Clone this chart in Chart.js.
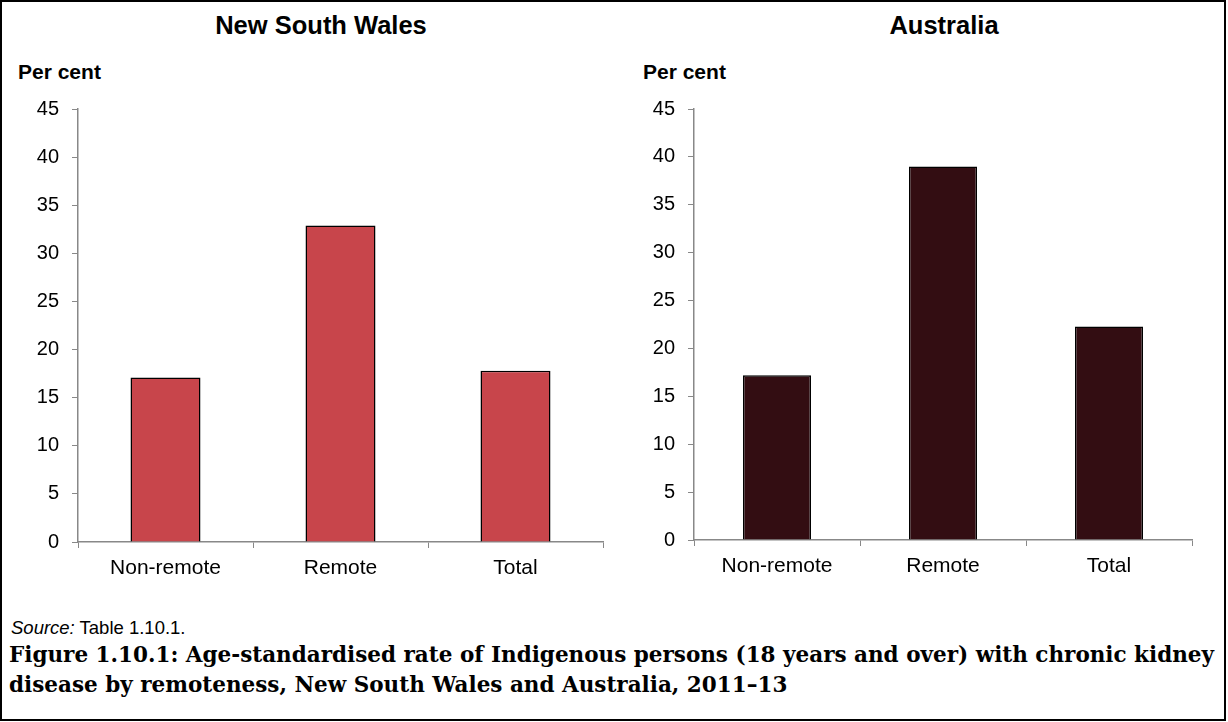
<!DOCTYPE html>
<html>
<head>
<meta charset="utf-8">
<script src="https://cdn.jsdelivr.net/npm/chart.js@4"></script>
<style>
  body { margin: 0; background: #fff; }
  #frame {
    position: absolute; left: 0; top: 0; width: 1226px; height: 721px;
    box-sizing: border-box; border: 2px solid #000; background: #fff;
    font-family: "Liberation Sans", Arial, sans-serif; color: #000;
  }
  .title { position: absolute; top: 9px; font-weight: bold; font-size: 25.5px; text-align: center; width: 400px; }
  .unit { position: absolute; top: 58px; font-weight: bold; font-size: 21px; }
  .wrap { position: absolute; top: 0; height: 600px; }
  #source { position: absolute; left: 9px; top: 615px; font-size: 18.5px; }
  #caption {
    position: absolute; left: 7px; top: 638px; font-family: "DejaVu Serif", serif;
    font-weight: bold; font-size: 21.5px; line-height: 30px; white-space: nowrap;
  }
</style>
</head>
<body>
<div id="frame">
  <div class="title" style="left:119px;">New South Wales</div>
  <div class="title" style="left:742px;">Australia</div>
  <div class="unit" style="left:16px;">Per cent</div>
  <div class="unit" style="left:641px;">Per cent</div>
  <div class="wrap" style="left:-2px; width:614px;"><canvas id="nsw"></canvas></div>
  <div class="wrap" style="left:612px; width:600px;"><canvas id="aus"></canvas></div>
  <div id="source"><i>Source:</i> Table 1.10.1.</div>
  <div id="caption">Figure 1.10.1: Age-standardised rate of Indigenous persons (18 years and over) with chronic kidney<br>disease by remoteness, New South Wales and Australia, 2011–13</div>
</div>
<script>
// 자료
const categories = ['Non-remote', 'Remote', 'Total'];
const nswValues = [17.1, 32.9, 17.8];
const ausValues = [17.2, 39.0, 22.3];
const yMin = 0, yMax = 45, yStep = 5;

function makeChart(id, values, color, barPct, pad) {
  const ctx = document.getElementById(id).getContext('2d');
  return new Chart(ctx, {
    type: 'bar',
    data: {
      labels: categories,
      datasets: [{
        data: values,
        backgroundColor: color,
        borderColor: '#000',
        borderWidth: 1.5,
        borderSkipped: 'bottom',
        categoryPercentage: 1,
        barPercentage: barPct
      }]
    },
    options: {
      responsive: true,
      maintainAspectRatio: false,
      animation: false,
      layout: { padding: pad },
      plugins: { legend: { display: false }, tooltip: { enabled: false } },
      scales: {
        x: {
          grid: { drawOnChartArea: false, color: '#888', tickLength: 6, offset: true },
          border: { color: '#888', width: 1.5 },
          ticks: { color: '#000', padding: 8, font: { family: 'Liberation Sans', size: 21 } },
          afterFit: (s) => { s.height = 40; }
        },
        y: {
          min: yMin, max: yMax,
          grid: { drawOnChartArea: false, color: '#888', tickLength: 6 },
          border: { color: '#888', width: 1.5 },
          ticks: { stepSize: yStep, color: '#000', padding: 13, font: { family: 'Liberation Sans', size: 20 } },
          afterFit: (s) => { s.width = 78; }
        }
      }
    }
  });
}

makeChart('nsw', nswValues, '#C8454B', 0.4, { left: 0, right: 11, top: 107, bottom: 20 });
makeChart('aus', ausValues, '#330D12', 0.41, { left: 2, right: 22, top: 107, bottom: 22 });
</script>
</body>
</html>
